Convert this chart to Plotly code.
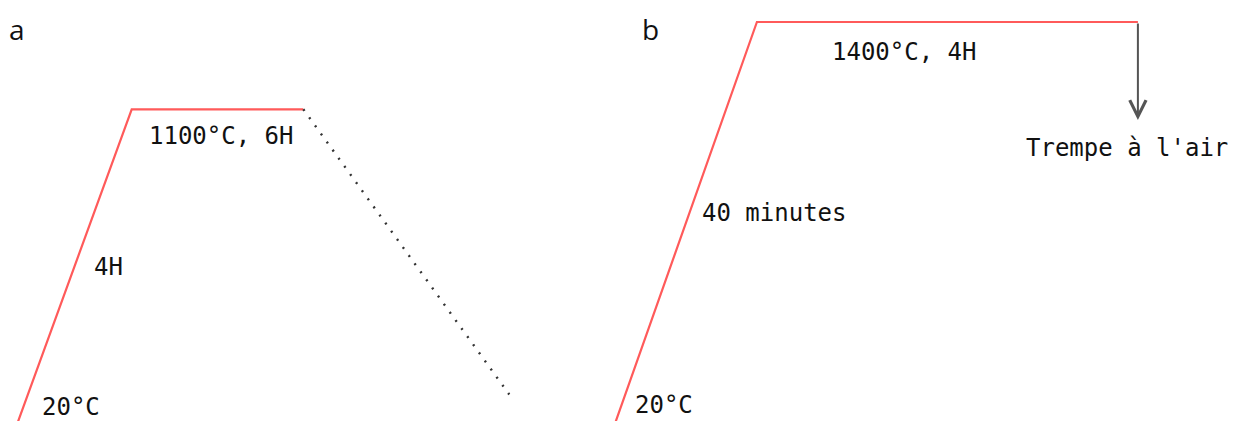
import plotly.graph_objects as go

# ---- data (schematic heat-treatment cycles) ----
# Panel a: heating 20 -> 1100 °C in 4 h, hold 6 h, then slow cooling (dotted)
a_time_h = [0, 4, 10]
a_temp_c = [20, 1100, 1100]
a_cool_time_h = [10, 17.2]
a_cool_temp_c = [1100, 120]

# Panel b: heating 20 -> 1400 °C in 40 min, hold 4 h, air quench (arrow)
b_time_pos = [0, 1.49, 5.49]
b_temp_c = [20, 1400, 1400]
b_quench_end_c = 1063

# labels
a_labels = ["1100°C, 6H", "4H", "20°C"]
b_labels = ["1400°C, 4H", "40 minutes", "20°C", "Trempe à l'air"]
panel_letters = ["a", "b"]

W, H = 1236, 421
RED = "#ff5a5a"
MONO = "DejaVu Sans Mono"

fig = go.Figure()
fig.add_trace(go.Scatter(x=a_time_h, y=a_temp_c, mode="lines",
                         line=dict(color=RED, width=2.2), xaxis="x", yaxis="y",
                         hoverinfo="skip"))
fig.add_trace(go.Scatter(x=a_cool_time_h, y=a_cool_temp_c, mode="lines",
                         line=dict(color="#333333", width=2.4, dash="2px,8px"),
                         xaxis="x", yaxis="y", hoverinfo="skip"))
fig.add_trace(go.Scatter(x=b_time_pos, y=b_temp_c, mode="lines",
                         line=dict(color=RED, width=2.2), xaxis="x2", yaxis="y",
                         hoverinfo="skip"))

# quench arrow (panel b)
fig.add_annotation(x=b_time_pos[-1], y=b_quench_end_c, xref="x2", yref="y",
                   ax=b_time_pos[-1], ay=b_temp_c[-1], axref="x2", ayref="y",
                   text="", showarrow=True, arrowhead=5, arrowsize=1.6,
                   arrowwidth=2, arrowcolor="#555555")

def txt(label, px, py, size=24, family=MONO):
    fig.add_annotation(x=px / W, y=1 - py / H, xref="paper", yref="paper",
                       text=label, showarrow=False, xanchor="center",
                       yanchor="middle",
                       font=dict(family=family, size=size, color="#111111"))

# panel a labels
txt(a_labels[0], 221, 136)
txt(a_labels[1], 109, 267)
txt(a_labels[2], 71, 407)
# panel b labels
txt(b_labels[0], 904, 52)
txt(b_labels[1], 774, 213)
txt(b_labels[2], 664, 405)
txt(b_labels[3], 1127, 148)
# panel letters
txt(panel_letters[0], 17, 29, size=28, family="Open Sans")
txt(panel_letters[1], 650, 29, size=28, family="Open Sans")

ax_common = dict(showgrid=False, zeroline=False, showticklabels=False,
                 showline=False, ticks="", fixedrange=True)
fig.update_layout(
    width=W, height=H,
    margin=dict(l=0, r=0, t=0, b=0),
    paper_bgcolor="white", plot_bgcolor="white",
    showlegend=False,
    xaxis=dict(range=[-0.605, 42.61], domain=[0, 1], **ax_common),
    xaxis2=dict(range=[-6.457, 6.520], overlaying="x", **ax_common),
    yaxis=dict(range=[28.8, 1475.6], domain=[0, 1], **ax_common),
)

fig.write_html("out.html",
               post_script="document.body.style.margin='0';document.body.style.overflow='hidden';",
               config={"displayModeBar": False})
